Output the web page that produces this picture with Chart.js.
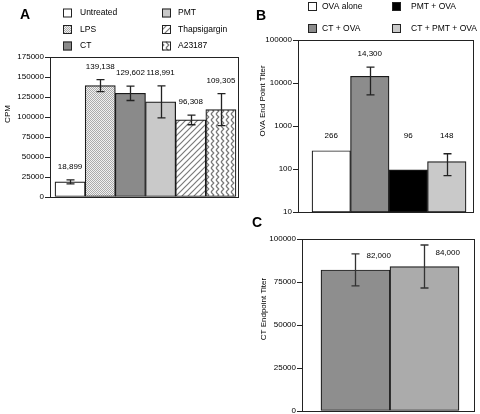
<!DOCTYPE html>
<html>
<head>
<meta charset="utf-8">
<script src="https://cdn.jsdelivr.net/npm/chart.js@4.4.1/dist/chart.umd.min.js"></script>
<style>
  html, body { margin: 0; padding: 0; background: #fff; }
  body { width: 480px; height: 414px; position: relative; overflow: hidden; }
  canvas { position: absolute; }
  #chartA { left: 0; top: 0; }
  #chartB { left: 240px; top: 0; }
  #chartC { left: 240px; top: 216px; }
</style>
</head>
<body>
<canvas id="chartA" width="242" height="212"></canvas>
<canvas id="chartB" width="240" height="220"></canvas>
<canvas id="chartC" width="240" height="204"></canvas>
<script>
// panel A
const groupsA = ['Untreated', 'LPS', 'CT', 'PMT', 'Thapsigargin', 'A23187'];
const cpmMean = [18899, 139138, 129602, 118991, 96308, 109305];
const cpmErr = [2500, 7500, 9000, 20000, 6000, 20000];
const cpmTicks = [0, 25000, 50000, 75000, 100000, 125000, 150000, 175000];

// panel B
const groupsB = ['OVA alone', 'CT + OVA', 'PMT + OVA', 'CT + PMT + OVA'];
const ovaTiter = [266, 14300, 96, 148];
const ovaErr = [0, 9000, 0, 78];
const ovaTicks = [10, 100, 1000, 10000, 100000];

// panel C
const groupsC = ['CT + OVA', 'CT + PMT + OVA'];
const ctTiter = [82000, 84000];
const ctErr = [9300, 12500];
const ctTicks = [0, 25000, 50000, 75000, 100000];

const FONT = '"Liberation Sans", Arial, Helvetica, sans-serif';

function makePattern(w, h, draw) {
  const c = document.createElement('canvas');
  c.width = w; c.height = h;
  const g = c.getContext('2d');
  draw(g);
  return g.createPattern(c, 'repeat');
}

const lpsFill = makePattern(2, 2, g => {
  g.fillStyle = '#f0f0f0'; g.fillRect(0, 0, 2, 2);
  g.fillStyle = '#ababab'; g.fillRect(0, 0, 1, 1); g.fillRect(1, 1, 1, 1);
});
const thapsFill = makePattern(6, 6, g => {
  g.fillStyle = '#fff'; g.fillRect(0, 0, 6, 6);
  g.strokeStyle = '#7a7a7a'; g.lineWidth = 1.2;
  g.beginPath();
  g.moveTo(-1, 7); g.lineTo(7, -1);
  g.moveTo(-1, 1); g.lineTo(1, -1);
  g.moveTo(5, 7); g.lineTo(7, 5);
  g.stroke();
});
const a23Fill = makePattern(5, 6, g => {
  g.fillStyle = '#fff'; g.fillRect(0, 0, 5, 6);
  g.strokeStyle = '#777'; g.lineWidth = 1.2;
  g.beginPath();
  g.moveTo(1, 0); g.lineTo(3.8, 3); g.lineTo(1, 6);
  g.stroke();
});

const colorsA = ['#ffffff', lpsFill, '#8a8a8a', '#c9c9c9', thapsFill, a23Fill];
const colorsB = ['#ffffff', '#8c8c8c', '#000000', '#c9c9c9'];
const colorsC = ['#8e8e8e', '#ababab'];

// frame, error bars, value labels, legend, titles
const decor = {
  id: 'decor',
  afterDatasetsDraw(chart, args, o) {
    const ctx = chart.ctx, a = chart.chartArea;
    const xs = chart.scales.x, ys = chart.scales.y;
    const ds = chart.data.datasets[0];
    const vals = ds.data.map(d => d.y);
    ctx.save();

    ctx.strokeStyle = '#222';
    ctx.lineWidth = 1;
    ctx.strokeRect(Math.round(a.left) + 0.5, Math.round(a.top) + 0.5,
      Math.round(a.right - a.left) - 1, Math.round(a.bottom - a.top));

    ctx.strokeStyle = o.errColor || '#222';
    ctx.lineWidth = 1.3;
    vals.forEach((v, i) => {
      const e = o.err[i];
      if (!e) return;
      const cx = Math.round(xs.getPixelForValue(i)) + 0.5;
      const hi = ys.getPixelForValue(v + e), lo = ys.getPixelForValue(v - e);
      ctx.beginPath();
      ctx.moveTo(cx, hi); ctx.lineTo(cx, lo);
      ctx.moveTo(cx - 4, hi); ctx.lineTo(cx + 4, hi);
      ctx.moveTo(cx - 4, lo); ctx.lineTo(cx + 4, lo);
      ctx.stroke();
    });

    ctx.fillStyle = '#000';
    ctx.font = '8px ' + FONT;
    ctx.textBaseline = 'middle';
    ctx.textAlign = o.labelAlign || 'center';
    vals.forEach((v, i) => {
      const cx = xs.getPixelForValue(i);
      const ref = o.labelFrom === 'value' ? v : v + (o.err[i] || 0);
      let ly = ys.getPixelForValue(ref) - o.labelGap;
      if (o.labelFloor) ly = Math.min(ly, ys.getPixelForValue(o.labelFloor));
      ctx.fillText(v.toLocaleString('en-US'), cx + (o.labelDx || 0), ly);
    });

    if (o.legend) {
      const L = o.legend;
      ctx.textAlign = 'left';
      chart.data.labels.forEach((lab, i) => {
        const col = Math.floor(i / L.rows), row = i % L.rows;
        const bx = L.box[col], ty = L.y0 + row * L.dy;
        ctx.fillStyle = ds.backgroundColor[i];
        ctx.fillRect(bx, ty - 4.5, 9, 9);
        ctx.strokeStyle = '#222';
        ctx.lineWidth = 1;
        ctx.strokeRect(bx + 0.5, ty - 4.5 + 0.5, 8, 8);
        ctx.fillStyle = '#000';
        ctx.font = '8.5px ' + FONT;
        ctx.fillText(lab, L.text[col], ty);
      });
    }

    ctx.fillStyle = '#000';
    ctx.font = 'bold 14px ' + FONT;
    ctx.textAlign = 'left';
    ctx.fillText(o.letter.text, o.letter.x, o.letter.y);

    ctx.save();
    ctx.translate(o.title.x, o.title.y);
    ctx.rotate(-Math.PI / 2);
    ctx.textAlign = 'center';
    ctx.font = '8px ' + FONT;
    ctx.fillText(o.title.text, 0, 0);
    ctx.restore();

    ctx.restore();
  }
};

function yAxis(min, max, ticks, width, type) {
  return {
    type: type || 'linear',
    min: min, max: max,
    afterBuildTicks: s => { s.ticks = ticks.map(v => ({ value: v })); },
    afterFit: s => { s.width = width; },
    ticks: { color: '#000', font: { family: FONT, size: 8 }, padding: 1, callback: v => String(v) },
    grid: { drawOnChartArea: false, tickLength: 5, color: '#222' },
    border: { color: '#222' }
  };
}

// x is a plain index axis so the bars can sit side by side with a margin inside the frame
function barChart(id, labels, values, colors, xRange, padding, y, decorOpts) {
  return new Chart(document.getElementById(id), {
    type: 'bar',
    data: {
      labels: labels,
      datasets: [{
        data: values.map((v, i) => ({ x: i, y: v })),
        backgroundColor: colors,
        borderColor: '#1a1a1a',
        borderWidth: 1.2,
        borderSkipped: false,
        barPercentage: 1,
        categoryPercentage: 1
      }]
    },
    options: {
      responsive: false,
      animation: false,
      layout: { padding: padding },
      plugins: { legend: { display: false }, tooltip: { enabled: false }, decor: decorOpts },
      scales: {
        x: {
          type: 'linear', display: false, offset: false, min: xRange[0], max: xRange[1],
          afterBuildTicks: s => { s.ticks = labels.map((_, i) => ({ value: i })); }
        },
        y: y
      }
    },
    plugins: [decor]
  });
}

barChart('chartA', groupsA, cpmMean, colorsA, [-0.666, 5.6],
  { left: 0, top: 57, right: 3, bottom: 15 },
  yAxis(0, 175000, cpmTicks, 50),
  {
    err: cpmErr, labelGap: 13,
    legend: { rows: 3, box: [63, 162], text: [80, 178], y0: 13, dy: 16.5 },
    letter: { text: 'A', x: 20, y: 15 },
    title: { text: 'CPM', x: 8, y: 114 }
  });

barChart('chartB', groupsB, ovaTiter, colorsB, [-0.864, 3.707],
  { left: 0, top: 40, right: 6, bottom: 8 },
  yAxis(10, 100000, ovaTicks, 58, 'logarithmic'),
  {
    err: ovaErr, labelGap: 13, labelFloor: 600,
    legend: { rows: 2, box: [68, 152], text: [82, 171], y0: 6.5, dy: 22 },
    letter: { text: 'B', x: 16, y: 16 },
    title: { text: 'OVA End Point Titer', x: 23, y: 101 }
  });

barChart('chartC', groupsC, ctTiter, colorsC, [-0.775, 1.732],
  { left: 0, top: 23, right: 5, bottom: 9 },
  yAxis(0, 100000, ctTicks, 62),
  {
    err: ctErr, errColor: '#333', labelFrom: 'value', labelGap: 14, labelDx: 11, labelAlign: 'left',
    letter: { text: 'C', x: 12, y: 7 },
    title: { text: 'CT Endpoint Titer', x: 24, y: 93 }
  });
</script>
</body>
</html>
